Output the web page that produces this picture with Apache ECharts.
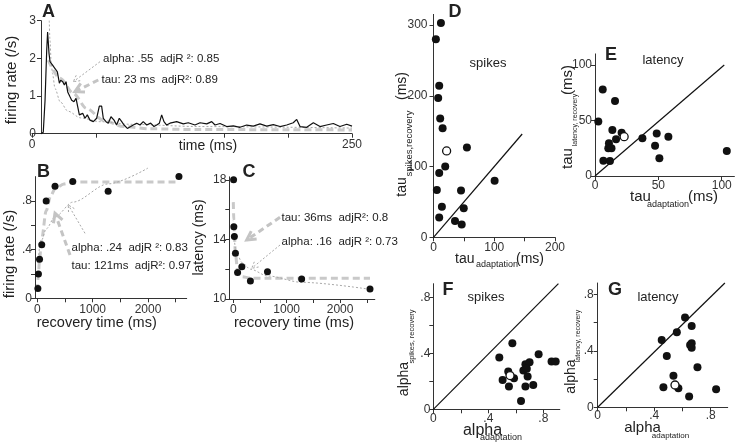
<!DOCTYPE html>
<html><head><meta charset="utf-8">
<script src="https://cdn.jsdelivr.net/npm/echarts@6/dist/echarts.min.js"></script>
<style>html,body{margin:0;padding:0;background:#fff}#c{width:737px;height:443px}</style>
</head><body><div id="c"></div>
<script>
// ---------- Panel A : firing rate vs time ----------
const aTrace = [[7,0],[8.8,0.04],[10.2,0.89],[11.5,2.22],[12.2,2.7],[13.3,2.13],[14.1,1.91],[16.1,1.82],[18,1.73],[19.8,1.64],[21.4,1.34],[22.4,1.42],[24,1.38],[25.3,1.29],[26.6,1.38],[27.9,1.11],[29.7,0.98],[31,0.89],[32.8,0.85],[34.4,0.94],[35.7,0.72],[37,0.5],[38.3,0.45],[39.6,0.54],[41.4,0.41],[43.2,0.5],[45.3,0.36],[47.9,0.32],[50.5,0.41],[52.6,0.73],[54.4,0.73],[55.7,0.41],[57.8,0.32],[59.6,0.28],[61.7,0.45],[64.1,0.36],[66.1,0.23],[68.2,0.41],[70.1,0.32],[71.9,0.23],[74.5,0.14],[77.1,0.19],[79.1,0.23],[81.8,0.28],[84.4,0.23],[86.9,0.32],[89.6,0.23],[92.7,0.28],[95.3,0.19],[97.4,0.23],[99.5,0.28],[101.3,0.5],[103.1,0.32],[105.2,0.23],[107.8,0.28],[113,0.32],[118.2,0.26],[122.1,0.29],[127.3,0.23],[131.3,0.29],[136.5,0.26],[140.4,0.32],[143,0.23],[146.9,0.27],[152.1,0.19],[157.3,0.21],[162.5,0.17],[167.7,0.23],[172.9,0.2],[178.1,0.26],[183.4,0.2],[188.5,0.24],[193.8,0.19],[199,0.23],[204.1,0.29],[206.8,0.38],[209.4,0.19],[214.6,0.17],[219.8,0.29],[225,0.19],[230.2,0.23],[235.4,0.27],[240.6,0.19],[245.9,0.25],[250,0.2]];
const aTauFit = [[12.7,1.95],[21.9,1.47],[32.3,1.07],[42.7,0.67],[55.7,0.36],[71.3,0.19],[92.2,0.13],[130,0.11],[250,0.1]];
const aAlphaFit = [[13.5,3.0],[14,2.5],[15,1.9],[16,1.6],[18,1.2],[22,0.85],[28,0.6],[38,0.42],[53,0.32],[77,0.25],[130,0.19],[250,0.15]];
const aXTicks = [0,50,100,150,200,250], aXLabels = [0,250], aYTicks = [0,1,2,3];

// ---------- Panel B : firing rate vs recovery time ----------
const bRecovery = [10,20,40,80,160,320,640,1280,2560];
const bRate = [0.08,0.20,0.32,0.44,0.80,0.92,0.96,0.88,1.0];
const bTauFit = [[0,0.06],[20,0.2],[40,0.32],[80,0.49],[160,0.72],[240,0.84],[320,0.9],[480,0.94],[640,0.955],[2560,0.955]];
const bAlphaFit = [[10,0.29],[20,0.34],[40,0.41],[80,0.48],[160,0.57],[320,0.67],[640,0.79],[1280,0.94],[2000,1.07]];
const rtTicks = [0,500,1000,1500,2000,2500], rtLabels = [0,1000,2000];
const bYTicks = [0,0.2,0.4,0.6,0.8], bYLabels = [0,0.4,0.8];

// ---------- Panel C : latency vs recovery time ----------
const cRecovery = [5,10,20,40,80,160,320,640,1280,2560];
const cLatency = [18.0,14.85,14.2,13.07,11.77,12.17,11.2,11.83,11.34,10.67];
const cTauFit = [[0,16.5],[10,15.3],[20,14.3],[40,13.0],[80,11.95],[160,11.5],[320,11.4],[2560,11.4]];
const cAlphaFit = [[10,14.3],[20,13.85],[40,13.4],[80,12.95],[160,12.45],[320,12.0],[640,11.55],[1280,11.12],[2560,10.65]];
const cYTicks = [10,12,14,16,18], cYLabels = [10,14,18];

// ---------- Panel D : tau spikes ----------
const dFilled = [[12.2,303],[3.9,280],[9.4,214],[7.7,197],[11,168],[15,154],[55,127],[19.3,100],[9.4,91],[5.5,67],[45.3,66],[100.6,80],[13.8,43],[49.8,41],[9.4,28],[35.4,23],[46.4,18]];
const dOpen = [[21.6,122]];
const dDiag = [[0,0],[146,146]];
const dXTicks = [0,50,100,150,200], dXLabels = [0,100,200], dYTicks = [0,100,200,300];

// ---------- Panel E : tau latency ----------
const eFilled = [[6.1,78],[15.8,67.6],[2.6,49],[13.7,41.4],[21,39],[16.6,33],[37.4,34],[48.7,38.4],[57.9,35.4],[47.4,27.3],[11,29.4],[10.5,25],[13,25],[6.6,13.8],[11.8,13.5],[50.8,16],[104,22.5]];
const eOpen = [[23,35.4]];
const eDiag = [[0,0],[102,100]];
const eTicks = [0,50,100];

// ---------- Panel F : alpha spikes ----------
const fFilled = [[0.575,0.474],[0.48,0.371],[0.766,0.395],[0.545,0.27],[0.504,0.21],[0.587,0.223],[0.55,0.163],[0.67,0.323],[0.70,0.338],[0.655,0.278],[0.68,0.29],[0.686,0.235],[0.67,0.163],[0.727,0.175],[0.638,0.06],[0.86,0.343],[0.89,0.343]];
const fOpen = [[0.558,0.242]];
const fDiag = [[0,0],[0.91,0.9]];

// ---------- Panel G : alpha latency ----------
const gFilled = [[0.618,0.635],[0.665,0.576],[0.56,0.531],[0.453,0.477],[0.665,0.453],[0.654,0.441],[0.665,0.422],[0.489,0.363],[0.706,0.283],[0.536,0.224],[0.465,0.142],[0.571,0.135],[0.838,0.127],[0.647,0.076]];
const gOpen = [[0.547,0.158]];
const gDiag = [[0,0],[0.9,0.88]];
const alphaTicks = [0,0.2,0.4,0.6,0.8], alphaLabels = [0,0.4,0.8];

// ------------------------------------------------------------
const FONT = '"Liberation Sans", Arial, Helvetica, sans-serif';
const AX = '#333';
const decFmt = v => (v === 0 ? '0' : String(+v.toFixed(2)).replace(/^0\./, '.'));

function axis(gi, min, max, ticks, labels, margin, extra) {
  return Object.assign({
    type: 'value', gridIndex: gi, min: min, max: max,
    axisLine: { show: true, onZero: false, lineStyle: { color: AX, width: 1 } },
    axisTick: { show: true, length: 4, customValues: ticks, lineStyle: { color: AX, width: 1 } },
    axisLabel: { customValues: labels, fontSize: 12, color: '#333', margin: margin, fontFamily: FONT, formatter: decFmt },
    splitLine: { show: false }
  }, extra || {});
}

const chart = echarts.init(document.getElementById('c'), null, { renderer: 'canvas' });

const pair = (xs, ys) => xs.map((x, i) => [x, ys[i]]);
const dashFit = { color: '#c9c9c9', width: 3, type: [7, 4] };
const dotFit = { color: '#a9a9a9', width: 1, type: [2, 2] };

function fitLine(gi, data, ls, clip) {
  return { type: 'line', xAxisIndex: gi, yAxisIndex: gi, data: data, showSymbol: false, symbol: 'none',
    smooth: 0.3, smoothMonotone: 'x', lineStyle: ls, clip: clip !== false, silent: true, z: 1 };
}
function dots(gi, data, size) {
  return { type: 'scatter', xAxisIndex: gi, yAxisIndex: gi, data: data, symbolSize: size,
    itemStyle: { color: '#111', opacity: 1 }, silent: true, z: 3 };
}
function openDots(gi, data, size) {
  return { type: 'scatter', xAxisIndex: gi, yAxisIndex: gi, data: data, symbolSize: size,
    itemStyle: { color: '#fff', borderColor: '#111', borderWidth: 1.3, opacity: 1 }, silent: true, z: 4 };
}
function diag(gi, data) {
  return { type: 'line', xAxisIndex: gi, yAxisIndex: gi, data: data, showSymbol: false, symbol: 'none',
    lineStyle: { color: '#111', width: 1.2 }, silent: true, z: 2, clip: false };
}

// ---------- annotations ----------
function txt(x, y, s, size, o) {
  o = o || {};
  return { type: 'text', x: x, y: y, rotation: o.rot || 0, silent: true, z: 100,
    style: { text: s, fontSize: size, fontFamily: FONT, fontWeight: o.bold ? 'bold' : 'normal',
      fill: o.color || '#222', align: o.align || 'center', verticalAlign: 'middle',
      textAlign: o.align || 'center', textVerticalAlign: 'middle' } };
}
function arrow(x1, y1, x2, y2, kind) {
  const thick = kind === 'dash';
  const st = thick ? { stroke: '#c4c4c4', lineWidth: 3, lineDash: [6, 4], fill: null }
                   : { stroke: '#a8a8a8', lineWidth: 1, lineDash: [2, 2], fill: null };
  const ang = Math.atan2(y1 - y2, x1 - x2);
  const L = thick ? 10 : 7, w = 0.5;
  const p1 = [x2 + L * Math.cos(ang + w), y2 + L * Math.sin(ang + w)];
  const p2 = [x2 + L * Math.cos(ang - w), y2 + L * Math.sin(ang - w)];
  return [
    { type: 'polyline', silent: true, z: 90, shape: { points: [[x1, y1], [x2, y2]] }, style: st },
    { type: 'polyline', silent: true, z: 90, shape: { points: [p1, [x2, y2], p2] }, style: Object.assign({}, st, { lineDash: thick ? null : [2, 2] }) }
  ];
}
const R = Math.PI / 2;
const graphics = [].concat(
  // panel letters
  txt(48.5, 12.5, 'A', 18, { bold: true }), txt(43.5, 172, 'B', 18, { bold: true }), txt(249, 172.5, 'C', 18, { bold: true }),
  txt(455, 12, 'D', 18, { bold: true }), txt(611, 55, 'E', 18, { bold: true }), txt(448, 290, 'F', 18, { bold: true }), txt(615, 290, 'G', 18, { bold: true }),
  // panel sub-titles
  txt(488, 63, 'spikes', 13), txt(663, 60, 'latency', 13), txt(486, 297, 'spikes', 13), txt(658, 297, 'latency', 13),
  // axis titles A, B, C
  txt(12, 80, 'firing rate (/s)', 15, { rot: R }), txt(208, 146, 'time (ms)', 14),
  txt(10, 254, 'firing rate (/s)', 15, { rot: R }), txt(96.7, 322.7, 'recovery time (ms)', 14.5),
  txt(199, 237.5, 'latency (ms)', 14, { rot: R }), txt(294, 322.7, 'recovery time (ms)', 14.5),
  // D titles
  txt(455, 259.5, 'tau', 14, { align: 'left' }), txt(476, 265, 'adaptation', 9, { align: 'left' }), txt(516, 259.5, '(ms)', 14, { align: 'left' }),
  txt(402, 187, 'tau', 14, { rot: R }), txt(409.5, 143.5, 'spikes,recovery', 9.5, { rot: R }), txt(402, 86, '(ms)', 14, { rot: R }),
  // E titles
  txt(630, 197, 'tau', 15, { align: 'left' }), txt(647, 205, 'adaptation', 9, { align: 'left' }), txt(688, 197, '(ms)', 15, { align: 'left' }),
  txt(568, 158.5, 'tau', 15, { rot: R }), txt(575, 120, 'latency, recovery', 7, { rot: R }), txt(568, 80, '(ms)', 15, { rot: R }),
  // F titles
  txt(482.5, 431, 'alpha', 16), txt(501, 437.5, 'adaptation', 9),
  txt(404, 379, 'alpha', 14, { rot: R }), txt(412, 336.5, 'spikes, recovery', 7.5, { rot: R }),
  // G titles
  txt(642.5, 428, 'alpha', 15), txt(670.5, 436, 'adaptation', 8),
  txt(571, 376.5, 'alpha', 14, { rot: R }), txt(578.5, 336, 'latency, recovery', 7, { rot: R }),
  // fit annotations
  txt(103, 58.5, 'alpha: .55  adjR \u00b2: 0.85', 11.5, { align: 'left' }),
  txt(101.5, 80, 'tau: 23 ms  adjR\u00b2: 0.89', 11.5, { align: 'left' }),
  txt(71.5, 247.5, 'alpha: .24  adjR \u00b2: 0.83', 11.5, { align: 'left' }),
  txt(71.5, 266, 'tau: 121ms  adjR\u00b2: 0.97', 11.5, { align: 'left' }),
  txt(281.5, 217.5, 'tau: 36ms  adjR\u00b2: 0.8', 11.5, { align: 'left' }),
  txt(281.5, 242, 'alpha: .16  adjR \u00b2: 0.73', 11.5, { align: 'left' }),
  arrow(100, 61.7, 73.3, 81.7, 'dot'), arrow(98.3, 80, 75, 91.7, 'dash'),
  arrow(70, 255, 55, 213.3, 'dash'), arrow(85, 233.3, 68.3, 205, 'dot'),
  arrow(280, 217.3, 246.7, 240, 'dash'), arrow(280, 245, 251.7, 268.3, 'dot')
);

const option = {
  animation: false,
  backgroundColor: '#fff',
  textStyle: { fontFamily: FONT },
  grid: [
    { left: 32, top: 20.7, width: 320, height: 113 },
    { left: 35, top: 176.6, width: 151.7, height: 121.7 },
    { left: 229.3, top: 176.8, width: 145.5, height: 122.2 },
    { left: 433.5, top: 14.4, width: 121.5, height: 222.9 },
    { left: 595, top: 53.9, width: 139.4, height: 122.1 },
    { left: 433.3, top: 283.7, width: 126.5, height: 125.6 },
    { left: 597.7, top: 283, width: 130, height: 124.3 }
  ],
  xAxis: [
    axis(0, 0, 250, aXTicks, aXLabels, 5),
    axis(1, -42, 2700, rtTicks, rtLabels, 5),
    axis(2, -75, 2650, rtTicks, rtLabels, 5),
    axis(3, 0, 200, dXTicks, dXLabels, 4),
    axis(4, 0, 110, eTicks, eTicks, 4),
    axis(5, 0, 0.92, alphaTicks, alphaLabels, 3),
    axis(6, 0, 0.92, alphaTicks, alphaLabels, 2)
  ],
  yAxis: [
    axis(0, 0, 3, aYTicks, aYTicks, 5, { offset: -9 }),
    axis(1, 0, 1, bYTicks, bYLabels, 3),
    axis(2, 10, 18.2, cYTicks, cYLabels, 3),
    axis(3, 0, 315, dYTicks, dYTicks, 6),
    axis(4, 0, 110, eTicks, eTicks, 3),
    axis(5, 0, 0.9, alphaTicks, alphaLabels, 3),
    axis(6, 0, 0.88, alphaTicks, alphaLabels, 4)
  ],
  series: [
    fitLine(0, aTauFit, dashFit), fitLine(0, aAlphaFit, dotFit, false),
    { type: 'line', xAxisIndex: 0, yAxisIndex: 0, data: aTrace, showSymbol: false, symbol: 'none',
      lineStyle: { color: '#111', width: 1.2 }, silent: true, z: 3 },
    fitLine(1, bTauFit, dashFit), fitLine(1, bAlphaFit, dotFit, false), dots(1, pair(bRecovery, bRate), 7),
    fitLine(2, cTauFit, dashFit), fitLine(2, cAlphaFit, dotFit), dots(2, pair(cRecovery, cLatency), 7),
    diag(3, dDiag), dots(3, dFilled, 8), openDots(3, dOpen, 8),
    diag(4, eDiag), dots(4, eFilled, 8), openDots(4, eOpen, 8),
    diag(5, fDiag), dots(5, fFilled, 8), openDots(5, fOpen, 8),
    diag(6, gDiag), dots(6, gFilled, 8), openDots(6, gOpen, 8)
  ],
  graphic: graphics
};
chart.setOption(option);
</script>
</body></html>
